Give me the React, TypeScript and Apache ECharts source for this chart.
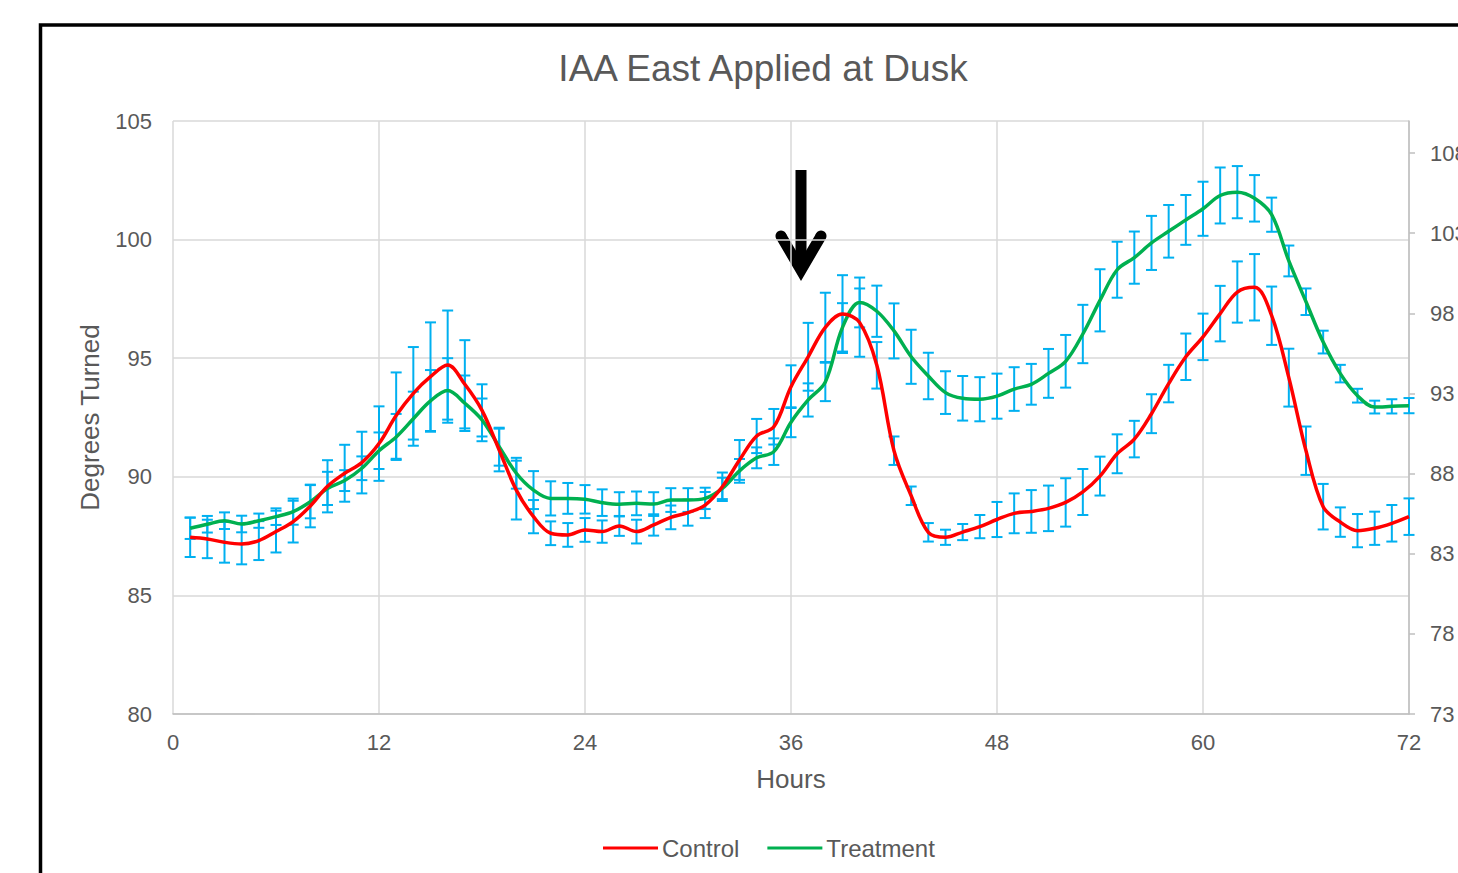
import React, { useEffect, useRef } from "react";
import * as echarts from "echarts";

const hours = [
  1, 2, 3, 4, 5, 6, 7, 8, 9, 10, 11, 12, 13, 14, 15, 16, 17, 18, 19, 20, 21, 22, 23, 24,
  25, 26, 27, 28, 29, 30, 31, 32, 33, 34, 35, 36, 37, 38, 39, 40, 41, 42, 43, 44, 45, 46, 47, 48,
  49, 50, 51, 52, 53, 54, 55, 56, 57, 58, 59, 60, 61, 62, 63, 64, 65, 66, 67, 68, 69, 70, 71, 72,
];

const control = [
  87.45, 87.38, 87.24, 87.17, 87.31, 87.69, 88.11, 88.77, 89.6, 90.15, 90.6, 91.4,
  92.58, 93.52, 94.22, 94.71, 93.9, 92.8, 91.13, 89.44, 88.32, 87.62, 87.55, 87.76,
  87.69, 87.93, 87.69, 87.97, 88.29, 88.49, 88.81, 89.58, 90.71, 91.72, 92.11, 93.8,
  95.06, 96.3, 96.86, 96.5, 94.7, 91.1, 89.2, 87.66, 87.45, 87.67, 87.9, 88.2,
  88.46, 88.54, 88.67, 88.92, 89.36, 90.03, 90.97, 91.59, 92.66, 93.93, 95.06, 95.9,
  96.88, 97.79, 97.99, 96.79, 94.18, 91.1, 88.74, 88.09, 87.73, 87.83, 88.04, 88.32,
];

const controlErr = [
  0.83, 0.81, 0.86, 0.86, 0.82, 0.88, 0.88, 0.9, 1.1, 1.2, 1.3, 1.57,
  1.82, 1.95, 2.29, 2.3, 1.86, 1.1, 0.9, 1.24, 0.7, 0.5, 0.5, 0.5,
  0.47, 0.42, 0.5, 0.45, 0.5, 0.55, 0.55, 0.6, 0.84, 0.72, 0.75, 0.9,
  1.43, 1.46, 1.64, 1.44, 0.98, 0.6, 0.39, 0.39, 0.32, 0.34, 0.49, 0.74,
  0.84, 0.9, 0.96, 1.02, 0.97, 0.82, 0.82, 0.77, 0.82, 0.79, 0.98, 0.98,
  1.17, 1.29, 1.4, 1.23, 1.22, 1.02, 0.96, 0.62, 0.7, 0.7, 0.77, 0.77,
];

const treatment = [
  87.83, 88.0, 88.15, 88.01, 88.15, 88.32, 88.53, 88.95, 89.51, 89.84, 90.36, 91.1,
  91.68, 92.45, 93.2, 93.64, 93.1, 92.4, 91.27, 90.15, 89.44, 89.09, 89.09, 89.05,
  88.91, 88.84, 88.88, 88.85, 89.02, 89.02, 89.09, 89.51, 90.25, 90.8, 91.06, 92.3,
  93.24, 94.0, 96.3, 97.35, 96.98, 96.15, 95.06, 94.25, 93.55, 93.31, 93.27, 93.4,
  93.7, 93.9, 94.36, 94.87, 96.02, 97.44, 98.73, 99.24, 99.86, 100.35, 100.83, 101.3,
  101.86, 102.0, 101.74, 101.05, 99.1, 97.38, 95.68, 94.35, 93.42, 92.94, 92.97, 93.0,
];

const treatmentErr = [
  0.45, 0.35, 0.35, 0.35, 0.3, 0.35, 0.55, 0.7, 0.7, 0.44, 0.5, 0.77,
  0.97, 1.14, 1.3, 1.36, 1.17, 0.9, 0.8, 0.65, 0.8, 0.72, 0.65, 0.6,
  0.56, 0.51, 0.5, 0.5, 0.5, 0.5, 0.45, 0.45, 0.5, 0.44, 0.56, 0.63,
  0.7, 0.81, 1.02, 1.05, 1.08, 1.16, 1.14, 0.98, 0.9, 0.94, 0.93, 0.95,
  0.92, 0.86, 1.03, 1.11, 1.23, 1.31, 1.18, 1.1, 1.14, 1.11, 1.05, 1.14,
  1.18, 1.1, 0.98, 0.72, 0.65, 0.56, 0.48, 0.37, 0.29, 0.27, 0.3, 0.32,
];

const rightTicks = [73, 78, 83, 88, 93, 98, 103, 108];

const FONT = "'Liberation Sans', Arial, sans-serif";
const TXT = "#595959";

function errorData(vals: number[], errs: number[]) {
  return hours.map((h, i) => [h, vals[i] - errs[i], vals[i] + errs[i]]);
}

const renderErr = (params: any, api: any) => {
  const x = api.value(0);
  const lo = api.coord([x, api.value(1)]);
  const hi = api.coord([x, api.value(2)]);
  const cw = 5.5;
  const style = { stroke: "#00B0F0", lineWidth: 2, fill: "none" };
  return {
    type: "group",
    children: [
      { type: "line", shape: { x1: lo[0], y1: lo[1], x2: hi[0], y2: hi[1] }, style },
      { type: "line", shape: { x1: lo[0] - cw, y1: lo[1], x2: lo[0] + cw, y2: lo[1] }, style },
      { type: "line", shape: { x1: hi[0] - cw, y1: hi[1], x2: hi[0] + cw, y2: hi[1] }, style },
    ],
  };
};

export default function App() {
  const ref = useRef<HTMLDivElement>(null);
  useEffect(() => {
    if (!ref.current) return;
    const chart = echarts.init(ref.current, undefined, { renderer: "svg" });
    chart.setOption({
      animation: false,
      backgroundColor: "#ffffff",
      title: {
        text: "IAA East Applied at Dusk",
        left: 758,
        top: 45,
        textAlign: "center",
        textStyle: { fontFamily: FONT, fontSize: 37, fontWeight: "normal", color: TXT },
      },
      grid: { left: 173, top: 121, width: 1236, height: 593, containLabel: false, outerBoundsMode: "none" },
      legend: {
        left: 598,
        top: 831,
        itemWidth: 55,
        itemHeight: 3,
        itemGap: 28,
        textStyle: { fontFamily: FONT, fontSize: 24, color: TXT, padding: [0, 0, 0, -1] },
        data: [
          { name: "Control", icon: "rect", itemStyle: { color: "#FF0000" } },
          { name: "Treatment", icon: "rect", itemStyle: { color: "#00B050" } },
        ],
      },
      xAxis: {
        type: "value",
        min: 0,
        max: 72,
        interval: 12,
        name: "Hours",
        nameLocation: "middle",
        nameGap: 52,
        nameTextStyle: { fontFamily: FONT, fontSize: 26, color: TXT },
        axisLine: { show: true, lineStyle: { color: "#BFBFBF", width: 1.5 } },
        axisTick: { show: false },
        axisLabel: { fontFamily: FONT, fontSize: 22, color: TXT, margin: 17 },
        splitLine: { show: true, lineStyle: { color: "#D9D9D9", width: 1.5 } },
      },
      yAxis: [
        {
          type: "value",
          min: 80,
          max: 105,
          interval: 5,
          name: "Degrees Turned",
          nameLocation: "middle",
          nameGap: 70,
          nameTextStyle: { fontFamily: FONT, fontSize: 26, color: TXT },
          axisLine: { show: false },
          axisTick: { show: false },
          axisLabel: { fontFamily: FONT, fontSize: 22, color: TXT, margin: 21 },
          splitLine: { show: true, lineStyle: { color: "#D9D9D9", width: 1.5 } },
        },
        {
          type: "value",
          position: "right",
          min: 73,
          max: 110,
          axisLine: { show: true, lineStyle: { color: "#BFBFBF", width: 1.5 } },
          axisTick: {
            show: true,
            inside: false,
            length: 6,
            customValues: rightTicks,
            lineStyle: { color: "#BFBFBF", width: 1.5 },
          },
          axisLabel: { fontFamily: FONT, fontSize: 22, color: TXT, margin: 21, customValues: rightTicks },
          splitLine: { show: false },
        },
      ],
      series: [
        {
          name: "ControlErr",
          type: "custom",
          renderItem: renderErr,
          data: errorData(control, controlErr),
          encode: { x: 0, y: [1, 2] },
          z: 2,
          silent: true,
        },
        {
          name: "TreatmentErr",
          type: "custom",
          renderItem: renderErr,
          data: errorData(treatment, treatmentErr),
          encode: { x: 0, y: [1, 2] },
          z: 2,
          silent: true,
        },
        {
          name: "Control",
          type: "line",
          data: hours.map((h, i) => [h, control[i]]),
          smooth: 0.35,
          showSymbol: false,
          lineStyle: { color: "#FF0000", width: 3.5 },
          itemStyle: { color: "#FF0000" },
          z: 4,
        },
        {
          name: "Treatment",
          type: "line",
          data: hours.map((h, i) => [h, treatment[i]]),
          smooth: 0.35,
          showSymbol: false,
          lineStyle: { color: "#00B050", width: 3.5 },
          itemStyle: { color: "#00B050" },
          z: 3,
        },
      ],
      graphic: [
        {
          type: "rect",
          shape: { x: 40.5, y: 25, width: 1600, height: 1200 },
          style: { fill: "none", stroke: "#000000", lineWidth: 3.5 },
          silent: true,
        },
        {
          type: "rect",
          shape: { x: 795.5, y: 170, width: 11, height: 90 },
          style: { fill: "#000000" },
          silent: true,
        },
        {
          type: "polygon",
          shape: {
            points: [
              [776.3, 238.8],
              [801, 280.9],
              [825.7, 238.8],
              [816.3, 233.2],
              [801, 259.2],
              [785.7, 233.2],
            ],
          },
          style: { fill: "#000000" },
          silent: true,
        },
        { type: "circle", shape: { cx: 781, cy: 236, r: 5.5 }, style: { fill: "#000000" }, silent: true },
        { type: "circle", shape: { cx: 821, cy: 236, r: 5.5 }, style: { fill: "#000000" }, silent: true },
      ],
    });
    return () => chart.dispose();
  }, []);
  return (
    <div style={{ position: "fixed", left: 0, top: 0, width: 1458, height: 873, overflow: "hidden", background: "#fff" }}>
      <div ref={ref} style={{ width: 1458, height: 873 }} />
    </div>
  );
}
